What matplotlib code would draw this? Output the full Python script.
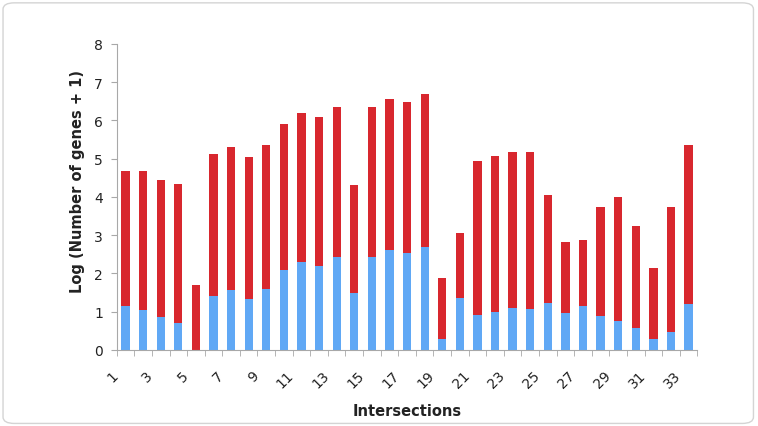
import matplotlib
matplotlib.use("Agg")
import matplotlib.pyplot as plt
import matplotlib.transforms as mtransforms
from matplotlib.patches import FancyBboxPatch
import numpy as np

# Intersecoes (1..33)
intersecoes = list(range(1, 34))

# altura total da barra (log(n+1))
total = [4.69, 4.68, 4.44, 4.35, 1.70, 5.11, 5.30, 5.05, 5.35, 5.91,
         6.19, 6.08, 6.36, 4.32, 6.36, 6.56, 6.49, 6.69, 1.88, 3.06,
         4.93, 5.08, 5.18, 5.18, 4.05, 2.81, 2.88, 3.73, 3.99, 3.23,
         2.15, 3.73, 5.36]

# parte azul (base)
azul = [1.16, 1.05, 0.85, 0.70, 0.00, 1.42, 1.57, 1.32, 1.59, 2.09,
        2.31, 2.20, 2.43, 1.49, 2.44, 2.61, 2.54, 2.69, 0.29, 1.35,
        0.91, 0.98, 1.11, 1.07, 1.23, 0.96, 1.16, 0.90, 0.77, 0.58,
        0.29, 0.46, 1.21]

vermelho = [t - a for t, a in zip(total, azul)]

AZUL = "#60a8f5"
VERMELHO = "#d8272e"
CINZA = "#a8a8a8"

fig = plt.figure(figsize=(7.58, 4.27), dpi=100)

# moldura cinza arredondada
moldura = FancyBboxPatch((0.004, 0.006), 0.99, 0.985,
                         boxstyle="round,pad=0,rounding_size=0.015",
                         transform=fig.transFigure, facecolor="white",
                         edgecolor="#d4d4d4", linewidth=1.0, zorder=-10)
fig.patches.append(moldura)

ax = fig.add_axes([0.154, 0.178, 0.766, 0.717])
ax.patch.set_alpha(0)

x = np.array(intersecoes)
ax.bar(x, azul, width=0.47, color=AZUL, linewidth=0)
ax.bar(x, vermelho, bottom=azul, width=0.47, color=VERMELHO, linewidth=0)

ax.set_xlim(0.5, 33.5)
ax.set_ylim(0, 8)

for lado in ("top", "right"):
    ax.spines[lado].set_visible(False)
ax.spines["left"].set_color(CINZA)
ax.spines["bottom"].set_color(CINZA)

ax.set_yticks(range(0, 9))
ax.tick_params(axis="y", colors=CINZA, length=4, labelcolor="#222222",
               labelsize=10, pad=6)

# rotulos em 1, 3, 5, ... ; tracinhos nas divisorias
ax.set_xticks(x[::2])
ax.set_xticklabels([str(i) for i in intersecoes[::2]], rotation=45,
                   ha="right", fontsize=10, color="#222222")
ax.tick_params(axis="x", which="major", length=0, pad=13)
ax.set_xticks(np.arange(0.5, 34, 1), minor=True)
ax.tick_params(axis="x", which="minor", length=4, colors=CINZA)

# desloca os rotulos um pouco para a esquerda
desloc = mtransforms.ScaledTranslation(-5 / 100, 0, fig.dpi_scale_trans)
for lbl in ax.get_xticklabels():
    lbl.set_transform(lbl.get_transform() + desloc)

ax.set_xlabel("Intersections", fontsize=10.5, fontweight="bold",
              color="#222222", labelpad=9)
ax.set_ylabel("Log (Number of genes + 1)", fontsize=10.5, fontweight="bold",
              color="#222222")
ax.yaxis.set_label_coords(-0.055, 0.552)

fig.savefig("out.png", dpi=100)
